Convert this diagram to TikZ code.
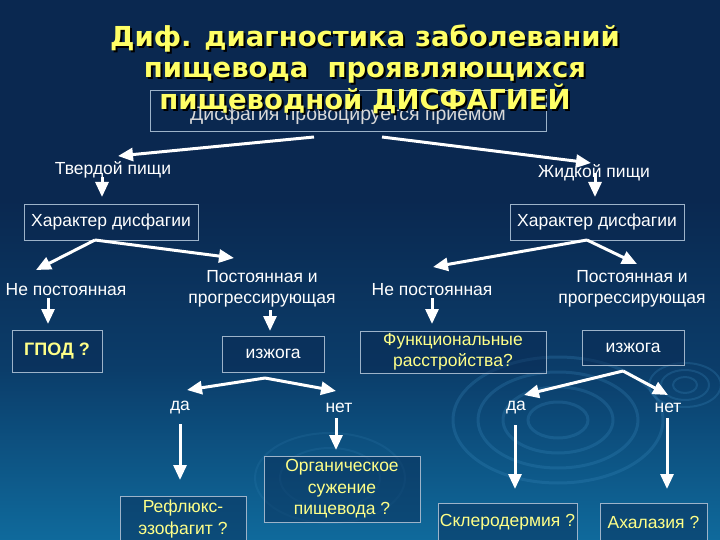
\documentclass[tikz,border=0pt]{standalone}
\usepackage{fontspec}
\setmainfont{Liberation Sans}
\newfontfamily\titlefont{DejaVu Sans}
\usetikzlibrary{arrows.meta}
\usetikzlibrary{calc}
\definecolor{bgtop}{HTML}{0A2850}
\definecolor{bgmid}{HTML}{0B3D6A}
\definecolor{bgbot}{HTML}{0F6A9C}
\definecolor{boxline}{HTML}{9DB3C9}
\definecolor{ytitle}{HTML}{FFFF66}
\definecolor{yanswer}{HTML}{FFFF88}
\definecolor{ripple}{HTML}{3C8CC0}

\begin{document}
\begin{tikzpicture}[x=1pt,y=-1pt,
    box/.style={draw=boxline, line width=0.9pt, fill=bgtop, fill opacity=0.45, text opacity=1,
        inner sep=0pt, align=center, font=\fontsize{17.5}{21.5}\selectfont},
    lbl/.style={text=white, align=center, font=\fontsize{17.5}{21}\selectfont},
    arr/.style={white, line width=3pt, -{Triangle[width=13pt,length=15pt]}}]
        \useasboundingbox (0,0) rectangle (720,540);
        \clip (0,0) rectangle (720,540);
        % background
        \fill[bgtop] (0,0) rectangle (720,200);
        \shade[top color=bgtop, bottom color=bgbot, middle color=bgmid] (0,199) rectangle (720,540);
        \foreach \rx/\ry in {30/18, 55/33, 80/48, 105/63} {
                \draw[ripple, line width=3pt, opacity=0.25] (558,420) ellipse (\rx pt and \ry pt);
            }
        \foreach \rx/\ry in {12/8, 24/15, 36/22} {
                \draw[ripple, line width=2pt, opacity=0.25] (685,385) ellipse (\rx pt and \ry pt);
            }
        \foreach \rx/\ry in {50/30, 75/45} {
                \draw[ripple, line width=2pt, opacity=0.15] (330,478) ellipse (\rx pt and \ry pt);
            }

        % boxes
        \node[box, minimum width=396pt, minimum height=41pt, text=white!85!black, text height=20pt, text depth=0pt,
            font=\fontsize{19.5}{22}\selectfont] (top) at (348,110.5) {Дисфагия провоцируется приемом};
        \node[box, minimum width=174pt, minimum height=36pt, text=white] (hl) at (111,222) {Характер дисфагии};
        \node[box, minimum width=174pt, minimum height=36pt, text=white] (hr) at (597,222) {Характер дисфагии};
        \node[box, minimum width=90pt, minimum height=42pt, text=yanswer, font=\bfseries\fontsize{18}{20}\selectfont] (gpod) at (57,351) {ГПОД ?};
        \node[box, minimum width=102pt, minimum height=36pt, text=white] (izl) at (273,354) {изжога};
        \node[box, minimum width=102pt, minimum height=35pt, text=white] (izr) at (633,347.5) {изжога};
        \node[box, minimum width=186pt, minimum height=42pt, text=yanswer] (func) at (453,352) {Функциональные\\расстройства?};
        \node[box, minimum width=156pt, minimum height=66pt, text=yanswer] (org) at (342,489) {Органическое\\сужение\\пищевода ?};
        \node[box, minimum width=126pt, minimum height=49pt, text=yanswer, text depth=8pt] (refl) at (183,521) {Рефлюкс-\\эзофагит ?};
        \node[box, minimum width=139pt, minimum height=37pt, text=yanswer] (skl) at (507.5,522) {Склеродермия ?};
        \node[box, minimum width=107pt, minimum height=37pt, text=yanswer] (ahal) at (653.5,522) {Ахалазия ?};

        % title
        \node[text=black, align=center, font=\titlefont\bfseries\fontsize{27.5}{31.5}\selectfont] (titleshadow) at (367,71)
            {Диф. диагностика заболеваний\\пищевода\ \ проявляющихся\\пищеводной ДИСФАГИЕЙ};
        \node[text=ytitle, align=center, font=\titlefont\bfseries\fontsize{27.5}{31.5}\selectfont] (title) at (365,69)
            {Диф. диагностика заболеваний\\пищевода\ \ проявляющихся\\пищеводной ДИСФАГИЕЙ};

        % labels
        \node[lbl] (tv) at (113,170) {Твердой пищи};
        \node[lbl] (zh) at (594,173) {Жидкой пищи};
        \node[lbl] (nl) at (66,290) {Не постоянная};
        \node[lbl] (pl) at (262,289) {Постоянная и\\прогрессирующая};
        \node[lbl] (nr) at (432,290) {Не постоянная};
        \node[lbl] (pr) at (632,289) {Постоянная и\\прогрессирующая};
        \node[lbl] (dl) at (180,408) {да};
        \node[lbl] (netl) at (339,408) {нет};
        \node[lbl] (dr) at (516,408) {да};
        \node[lbl] (netr) at (668,408) {нет};

        % arrows
        \foreach \a/\ax/\ay/\b/\bx/\by in {
                top/-34/26.5/tv/5/-14, top/34/26.5/zh/-3/-10,
                tv/-11/7/hl/-9/-25, zh/1/0/hr/-2/-25,
                hl/-16/18/nl/-30/-20, hl/-16/18/pl/-28/-31,
                nl/-18/8/gpod/-9/-27, pl/8/21/izl/-3/-23,
                hr/-10/18/nr/1/-23, hr/-10/18/pr/5/-25,
                nr/0/8/func/-21/-28,
                izl/-8/24/dl/7/-18, izl/-8/24/netl/-3/-17,
                dl/0/16/refl/-3/-41, netl/-3/10/org/-6/-39,
                izr/-10/23.5/dr/8/-13, izr/-10/23.5/netr/0/-13,
                dr/-1/17/skl/7.5/-33, netr/-1/10/ahal/13.5/-33} {
                \draw[arr] ($(\a)+(\ax,\ay)$) -- ($(\b)+(\bx,\by)$);
            }
    \end{tikzpicture}
\end{document}
